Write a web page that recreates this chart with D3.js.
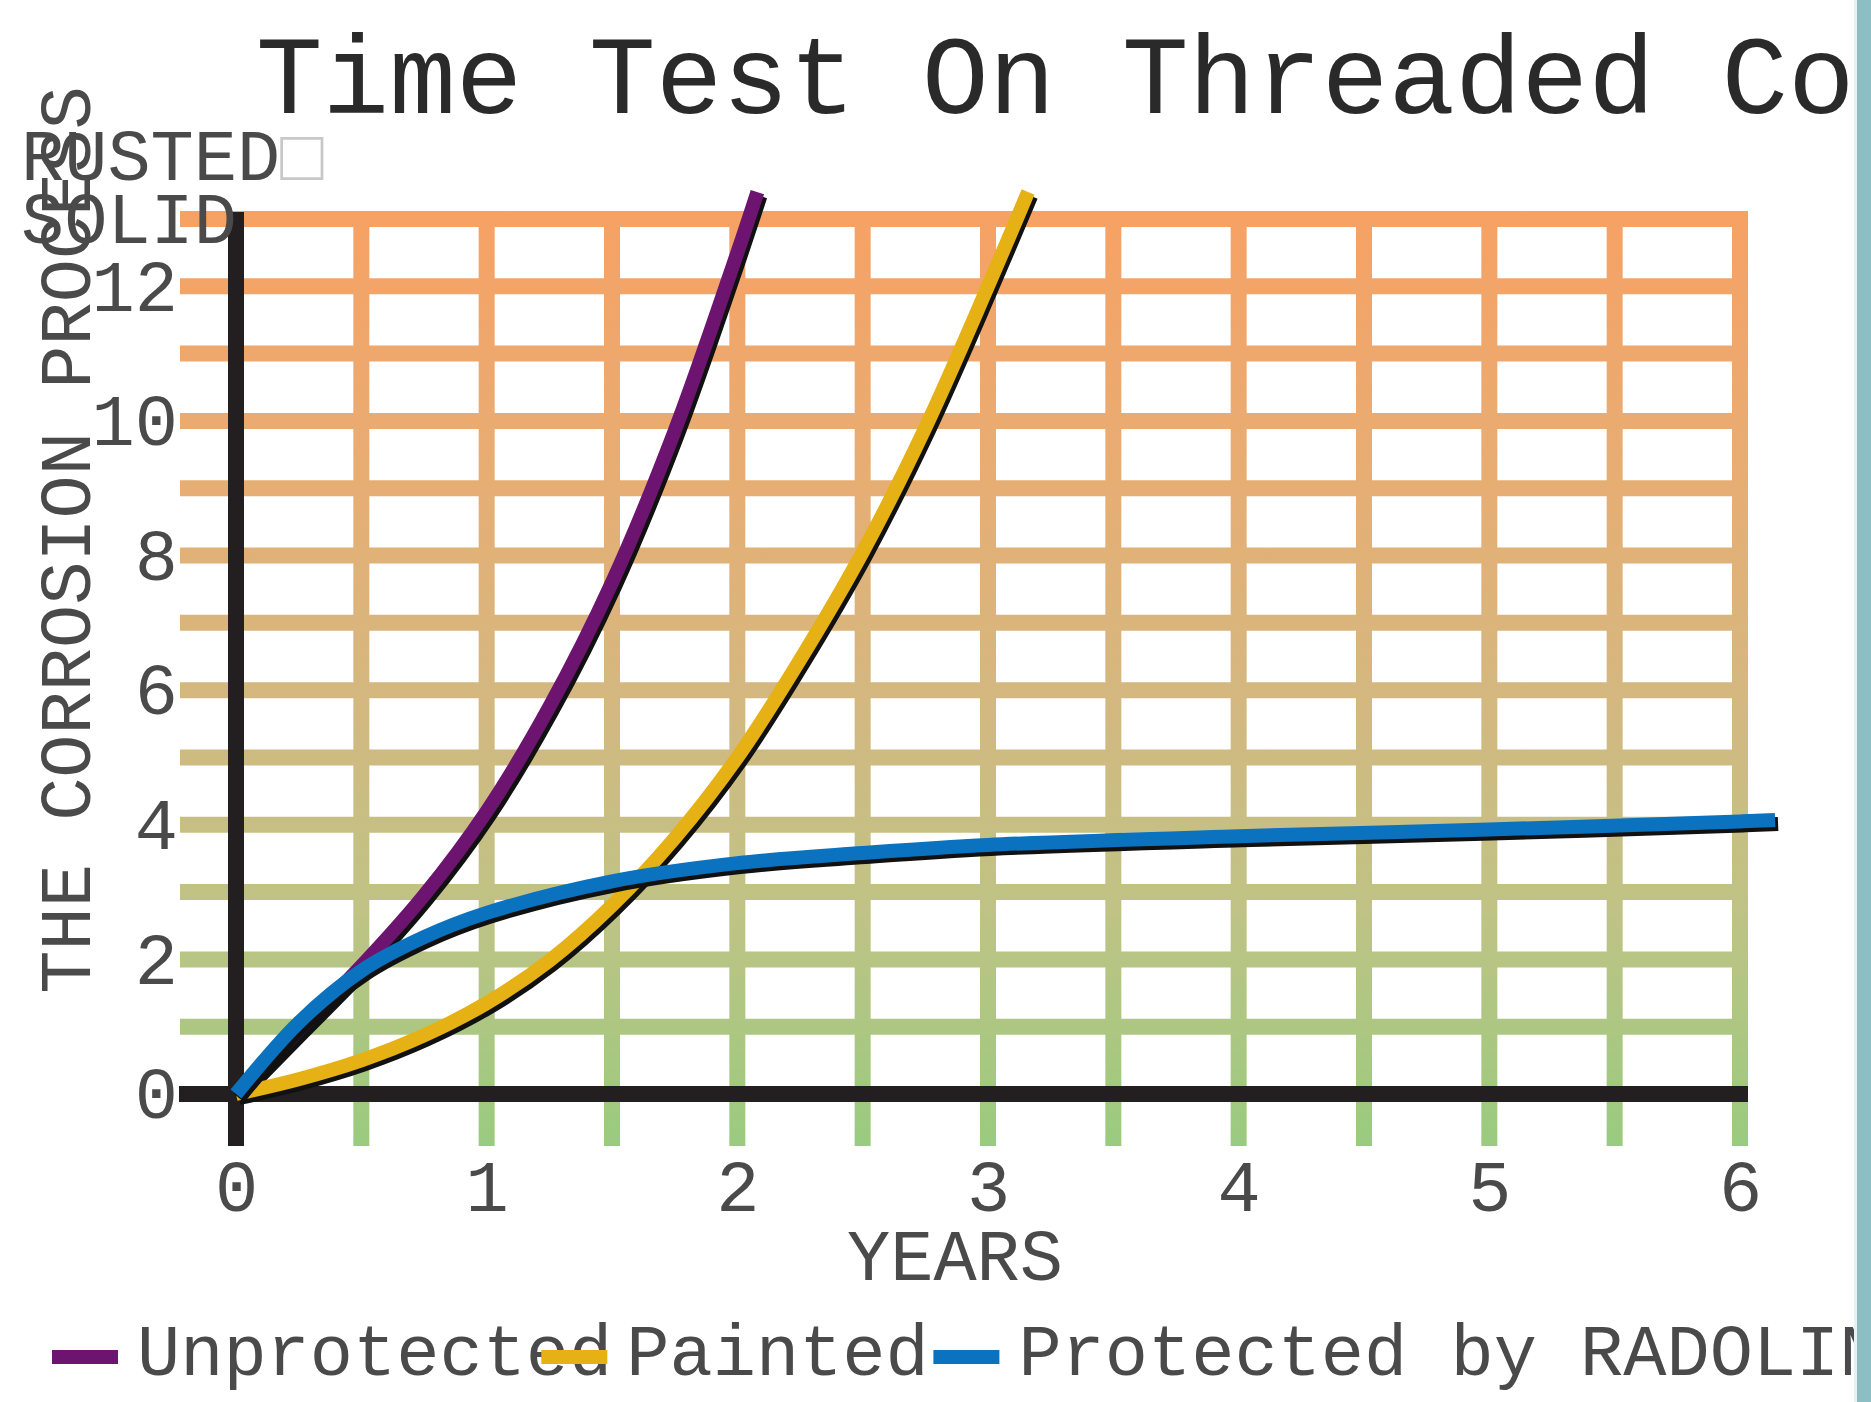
<!DOCTYPE html>
<html>
<head>
<meta charset="utf-8">
<script src="https://cdn.jsdelivr.net/npm/d3@7"></script>
<style>
  html, body { margin: 0; padding: 0; background: #ffffff; }
  svg { display: block; }
  text { font-family: "Courier New", "Liberation Mono", monospace; }
</style>
</head>
<body>
<svg id="chart" width="1871" height="1402"></svg>
<script>
// ---------- data ----------
const titleText = "Time Test On Threaded Connections";
const yAxisTitle = "THE CORROSION PROCESS";
const xAxisTitle = "YEARS";
const topLabels = ["RUSTED", "SOLID"];
const seriesNames = ["Unprotected", "Painted", "Protected by RADOLIN"];
const seriesColors = ["#6c1470", "#e6b114", "#0b72bf"];

const xTickValues = [0, 1, 2, 3, 4, 5, 6];
const yTickValues = [0, 2, 4, 6, 8, 10, 12];
const hGridValues = [1, 2, 3, 4, 5, 6, 7, 8, 9, 10, 11, 12, 13];
const vGridValues = [0.5, 1, 1.5, 2, 2.5, 3, 3.5, 4, 4.5, 5, 5.5, 6];

const unprotectedX = [0, 0.25, 0.5, 0.75, 1, 1.25, 1.5, 1.75, 2, 2.08];
const unprotectedY = [0, 0.95, 1.9, 2.95, 4.2, 5.75, 7.6, 9.85, 12.5, 13.4];
const paintedX = [0, 0.25, 0.5, 0.75, 1, 1.25, 1.5, 1.75, 2, 2.25, 2.5, 2.75, 3, 3.16];
const paintedY = [0, 0.22, 0.5, 0.87, 1.35, 1.98, 2.8, 3.8, 5.0, 6.45, 8.05, 9.9, 12.0, 13.4];
const protectedX = [0, 0.25, 0.5, 0.75, 1, 1.5, 2, 2.5, 3, 4, 5, 6, 6.14];
const protectedY = [0, 1.06, 1.83, 2.33, 2.69, 3.16, 3.43, 3.58, 3.70, 3.83, 3.93, 4.05, 4.07];

// ---------- layout ----------
const svg = d3.select("#chart");
const x = d3.scaleLinear().domain([0, 6]).range([236, 1740]);
const y = d3.scaleLinear().domain([0, 13]).range([1094, 219]);
const FONT = "'Courier New','Liberation Mono',monospace";
const TXT = "#4a4a4a";

const defs = svg.append("defs");
const grad = defs.append("linearGradient")
  .attr("id", "gridGrad").attr("gradientUnits", "userSpaceOnUse")
  .attr("x1", 0).attr("x2", 0).attr("y1", y(13) - 8).attr("y2", 1146);
[["0%", "#f7a164"], ["30%", "#e6ae74"], ["55%", "#d1b981"], ["75%", "#bfc385"], ["100%", "#99cb7f"]]
  .forEach(([o, c]) => grad.append("stop").attr("offset", o).attr("stop-color", c));

const gridW = 16;
const gridLeft = 180;
const gridRight = x(6) + gridW / 2;
const gridBottom = 1146;

// horizontal grid
svg.append("g").selectAll("line").data(hGridValues).join("line")
  .attr("x1", gridLeft).attr("x2", gridRight)
  .attr("y1", d => y(d)).attr("y2", d => y(d))
  .attr("stroke", "url(#gridGrad)").attr("stroke-width", gridW);

// vertical grid
svg.append("g").selectAll("line").data(vGridValues).join("line")
  .attr("x1", d => x(d)).attr("x2", d => x(d))
  .attr("y1", y(13) - gridW / 2).attr("y2", gridBottom)
  .attr("stroke", "url(#gridGrad)").attr("stroke-width", gridW);

// black axes
svg.append("line").attr("x1", 179).attr("x2", gridRight)
  .attr("y1", y(0)).attr("y2", y(0))
  .attr("stroke", "#231f20").attr("stroke-width", 16);
svg.append("line").attr("x1", x(0)).attr("x2", x(0))
  .attr("y1", 212).attr("y2", gridBottom)
  .attr("stroke", "#231f20").attr("stroke-width", 16);

// tick labels via d3 axes
const yAxis = svg.append("g").attr("transform", `translate(${x(0) - 58},0)`)
  .call(d3.axisLeft(y).tickValues(yTickValues).tickFormat(d3.format("d")).tickSize(0).tickPadding(0));
yAxis.select(".domain").remove();
yAxis.selectAll("text").attr("font-size", 72).attr("fill", TXT)
  .attr("font-family", FONT).attr("dy", "0.33em").attr("x", 0);

const xAxis = svg.append("g").attr("transform", `translate(0,${y(0)})`)
  .call(d3.axisBottom(x).tickValues(xTickValues).tickFormat(d3.format("d")).tickSize(0).tickPadding(0));
xAxis.select(".domain").remove();
xAxis.selectAll("text").attr("font-size", 72).attr("fill", TXT)
  .attr("font-family", FONT).attr("dy", 0).attr("y", 117);

// series lines
const series = [
  { xs: unprotectedX, ys: unprotectedY },
  { xs: paintedX, ys: paintedY },
  { xs: protectedX, ys: protectedY }
];
const line = d3.line().x(d => x(d[0])).y(d => y(d[1])).curve(d3.curveCatmullRom.alpha(0.5));
series.forEach((s, i) => {
  const pts = s.xs.map((v, k) => [v, s.ys[k]]);
  svg.append("path").attr("d", line(pts)).attr("fill", "none")
    .attr("stroke", "#111").attr("stroke-width", 14)
    .attr("transform", "translate(3,4)");
  svg.append("path").attr("d", line(pts)).attr("fill", "none")
    .attr("stroke", seriesColors[i]).attr("stroke-width", 14);
});

// title
svg.append("text").attr("x", 256).attr("y", 113)
  .attr("font-size", 111).attr("fill", "#2a2a2a")
  .text(titleText);

// y axis title
svg.append("text").attr("transform", "translate(90,540) rotate(-90)")
  .attr("text-anchor", "middle").attr("font-size", 72).attr("fill", TXT)
  .text(yAxisTitle);

// top labels
const rusted = svg.append("text").attr("x", 21).attr("y", 180)
  .attr("font-size", 72).attr("fill", TXT);
rusted.append("tspan").text(topLabels[0]);
rusted.append("tspan").attr("fill", "#c8c8c8").text("\u25A1");
svg.append("text").attr("x", 21).attr("y", 243)
  .attr("font-size", 72).attr("fill", TXT).text(topLabels[1]);

// x axis title
svg.append("text").attr("x", 955).attr("y", 1280).attr("text-anchor", "middle")
  .attr("font-size", 72).attr("fill", TXT).text(xAxisTitle);

// legend
let lx = 52;
seriesNames.forEach((name, i) => {
  svg.append("line").attr("x1", lx).attr("x2", lx + 66)
    .attr("y1", 1357).attr("y2", 1357)
    .attr("stroke", seriesColors[i]).attr("stroke-width", 14);
  svg.append("text").attr("x", lx + 85).attr("y", 1375)
    .attr("font-size", 72).attr("fill", TXT).text(name);
  lx += 222 + 24.3 * name.length;
});

// teal right border
svg.append("rect").attr("x", 1854).attr("y", 0).attr("width", 3).attr("height", 1402).attr("fill", "#e6f1f2");
svg.append("rect").attr("x", 1857).attr("y", 0).attr("width", 14).attr("height", 1402).attr("fill", "#8dbec4");
</script>
</body>
</html>
